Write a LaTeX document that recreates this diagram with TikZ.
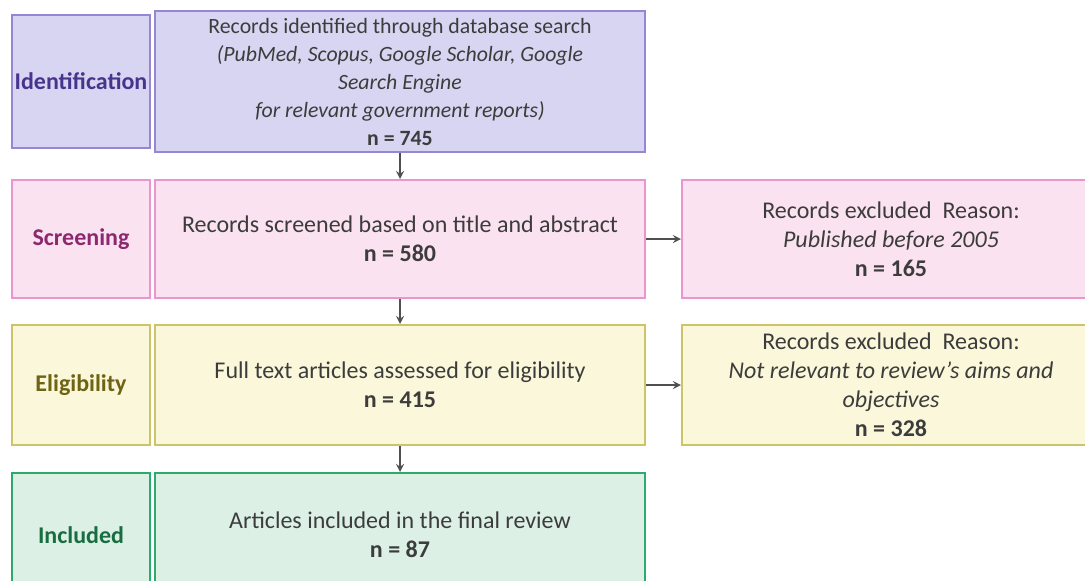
\documentclass[tikz,border=0pt]{standalone}
\usepackage{fontspec}
\setmainfont{Carlito}
\definecolor{idfill}{RGB}{215,213,241}
\definecolor{iddraw}{RGB}{150,135,212}
\definecolor{idtext}{RGB}{72,52,140}
\definecolor{scfill}{RGB}{251,226,241}
\definecolor{scdraw}{RGB}{232,150,205}
\definecolor{sctext}{RGB}{140,40,110}
\definecolor{elfill}{RGB}{250,247,218}
\definecolor{eldraw}{RGB}{205,195,105}
\definecolor{eltext}{RGB}{110,100,20}
\definecolor{infill}{RGB}{220,240,230}
\definecolor{indraw}{RGB}{45,170,110}
\definecolor{intext}{RGB}{25,110,65}
\definecolor{bodytext}{RGB}{60,60,60}
\definecolor{arrowgray}{RGB}{80,80,80}

\begin{document}
\begin{tikzpicture}[x=0.5pt, y=-0.5pt, >=stealth]
  \tikzstyle{stage} = [rectangle, draw, line width=1pt, minimum width=69pt, inner sep=0pt,
                                    font=\fontsize{12}{14.5}\selectfont\bfseries]
  \tikzstyle{box} = [rectangle, draw, line width=1pt, minimum width=245pt, align=center,
                                    text=bodytext, font=\fontsize{12}{14.5}\selectfont]
  \tikzstyle{excl} = [rectangle, draw, line width=1pt, minimum width=209pt, align=center,
                                    text=bodytext, font=\fontsize{12}{14.5}\selectfont]
  \tikzstyle{arrow} = [->, thick, draw=arrowgray]
\useasboundingbox (0,0) rectangle (1085,580);
\clip (0,0) rectangle (1085,580);
\node[stage, fill=idfill, draw=iddraw, text=idtext, minimum height=66.5pt](ident) at (81,81.5){Identification};
\node[box, fill=idfill, draw=iddraw, minimum height=66.5pt, font=\fontsize{10.9}{14}\selectfont](idbox) at (400,81.5){Records identified through database search\\
  \textit{(PubMed, Scopus, Google Scholar, Google}\\ \textit{Search Engine}\\
  \textit{for relevant government reports)}\\ \textbf{n = 745}};
\node[stage, fill=scfill, draw=scdraw, text=sctext, minimum height=59pt](screen) at (81,239){Screening};
\node[box, fill=scfill, draw=scdraw, minimum height=59pt](scrbox) at (400,239){Records screened based on title and abstract\\ \textbf{n = 580}};
\node[excl, fill=scfill, draw=scdraw, minimum height=59pt](excl1) at (891,239){Records excluded\ \ Reason:\\
  \textit{Published before 2005}\\ \textbf{n = 165}};
\node[stage, fill=elfill, draw=eldraw, text=eltext, minimum height=60pt](elig) at (81,385){Eligibility};
\node[box, fill=elfill, draw=eldraw, minimum height=60pt](elbox) at (400,385){Full text articles assessed for eligibility\\ \textbf{n = 415}};
\node[excl, fill=elfill, draw=eldraw, minimum height=60pt](excl2) at (891,385){Records excluded\ \ Reason:\\
  \textit{Not relevant to review's aims and}\\ \textit{objectives}\\ \textbf{n = 328}};
\node[stage, fill=infill, draw=indraw, text=intext, minimum height=62pt](incl) at (81,535){Included};
\node[box, fill=infill, draw=indraw, minimum height=62pt](inbox) at (400,535){Articles included in the final review\\ \textbf{n = 87}};
\draw[arrow] (idbox) -- (scrbox);
\draw[arrow] (scrbox) -- (elbox);
\draw[arrow] (elbox) -- (inbox);
\draw[arrow] (scrbox) -- (excl1);
\draw[arrow] (elbox) -- (excl2);
\end{tikzpicture}
\end{document}
